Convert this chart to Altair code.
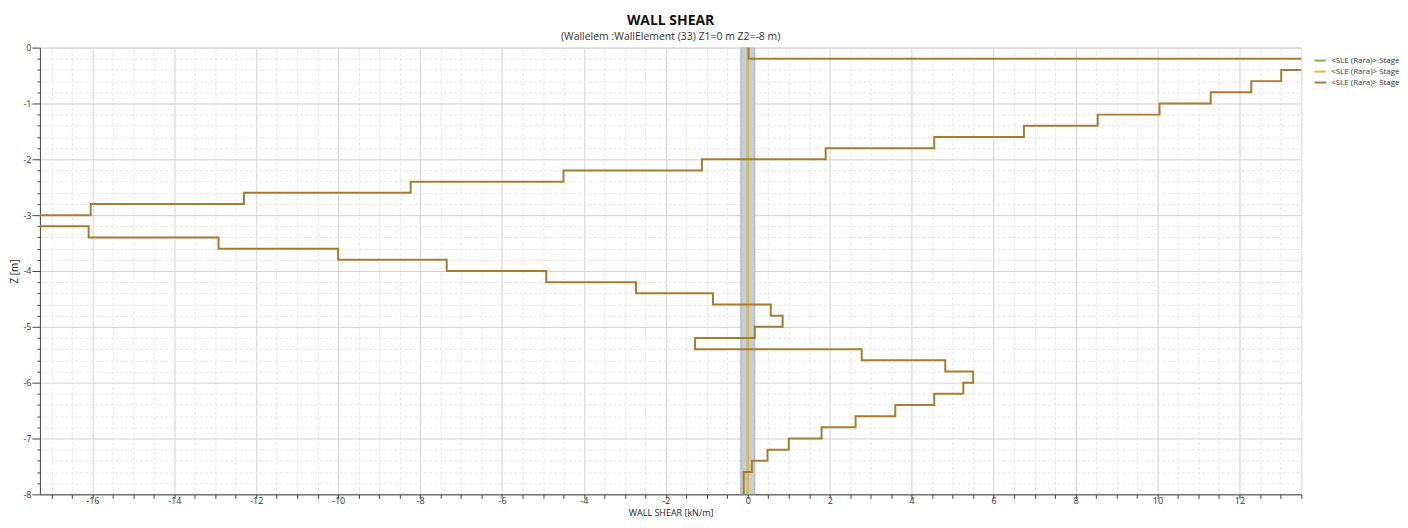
import altair as alt
import pandas as pd

# ---- data ----
z_edges = [0.0, -0.2, -0.4, -0.6, -0.8, -1.0, -1.2, -1.4, -1.6, -1.8,
           -2.0, -2.2, -2.4, -2.6, -2.8, -3.0, -3.2, -3.4, -3.6, -3.8,
           -4.0, -4.2, -4.4, -4.6, -4.8, -5.0, -5.2, -5.4, -5.6, -5.8,
           -6.0, -6.2, -6.4, -6.6, -6.8, -7.0, -7.2, -7.4, -7.6, -7.8, -8.0]

# wall shear per 0.2 m slice (stage 3, brown)
shear_stage3 = [0.02, 14.5, 13.02, 12.29, 11.3, 10.05, 8.54, 6.74, 4.55, 1.9,
                -1.12, -4.5, -8.23, -12.3, -16.04, -18.0, -16.09, -12.92, -10.0, -7.35,
                -4.92, -2.73, -0.85, 0.56, 0.85, 0.17, -1.29, 2.78, 4.82, 5.5,
                5.26, 4.55, 3.6, 2.63, 1.8, 1.0, 0.48, 0.1, -0.1, -0.1]

# stages 1 and 2: zero shear along the whole wall
stage12_z = [0.0, -8.0]
shear_stage1 = [0.0, 0.0]
shear_stage2 = [0.0, 0.0]

# grey envelope band around zero
band_low = [-0.17]
band_high = [0.17]

series_names = ["<SLE (Rara)> Stage 1", "<SLE (Rara)> Stage 2", "<SLE (Rara)> Stage 3"]
series_colors = ["#7DB84A", "#E9B935", "#A57D2F"]

x_ticks = [v / 2 for v in range(-34, 28)]          # every 0.5 kN/m
y_ticks = [round(-0.2 * i, 1) for i in range(41)]   # every 0.2 m

# ---- build tables ----
rows = []
k = 0
for zz, xx in zip(stage12_z, shear_stage1):
    rows.append({"x": xx, "z": zz, "series": series_names[0], "ord": k}); k += 1
for zz, xx in zip(stage12_z, shear_stage2):
    rows.append({"x": xx, "z": zz, "series": series_names[1], "ord": k}); k += 1
for i, v in enumerate(shear_stage3):
    rows.append({"x": v, "z": z_edges[i], "series": series_names[2], "ord": k}); k += 1
    rows.append({"x": v, "z": z_edges[i + 1], "series": series_names[2], "ord": k}); k += 1
lines = pd.DataFrame(rows)

band = pd.DataFrame({"x": band_low, "x2": band_high, "z": [z_edges[0]], "z2": [z_edges[-1]]})

FONT = "Open Sans"
x_major = "abs(datum.value % 2) < 0.001"
y_major = "abs(datum.value - round(datum.value)) < 0.001"

x_scale = alt.Scale(domain=[-17.28, 13.51], nice=False, zero=False)
y_scale = alt.Scale(domain=[-8, 0], nice=False, zero=False)

x_axis = alt.Axis(
    values=x_ticks,
    labelExpr=f"{x_major} ? '' + datum.value : ''",
    title="WALL SHEAR [kN/m]",
    grid=True,
    gridColor={"condition": {"test": x_major, "value": "#D2D2D2"}, "value": "#E9E9E9"},
    gridDash={"condition": {"test": x_major, "value": []}, "value": [3, 2]},
    gridWidth=1,
    tickSize=4, tickColor="#444", domainColor="#444",
    labelFontSize=9, labelColor="#333", labelFont=FONT, labelPadding=-2,
    titleFont=FONT, titleFontSize=9, titleFontWeight="normal", titleColor="#222",
    titlePadding=3, labelFlush=False,
)
y_axis = alt.Axis(
    values=y_ticks,
    labelExpr=f"{y_major} ? '' + round(datum.value) : ''",
    title="Z [m]",
    grid=True,
    gridColor={"condition": {"test": y_major, "value": "#D2D2D2"}, "value": "#E9E9E9"},
    gridDash={"condition": {"test": y_major, "value": []}, "value": [3, 2]},
    gridWidth=1,
    tickSize={"condition": {"test": y_major, "value": 8}, "value": 3},
    tickColor="#444", domainColor="#444",
    labelFontSize=9, labelColor="#333", labelFont=FONT, labelPadding=1,
    titleFont=FONT, titleFontSize=10, titleFontWeight="normal", titleColor="#222",
    titlePadding=3, labelFlush=False,
)

band_layer = alt.Chart(band).mark_rect(
    fill="#C9CDD5", stroke="#A9AEB9", strokeWidth=1, clip=True
).encode(
    x=alt.X("x:Q", scale=x_scale, axis=x_axis),
    x2="x2:Q",
    y=alt.Y("z:Q", scale=y_scale, axis=y_axis),
    y2="z2:Q",
)

line_layer = alt.Chart(lines).mark_line(strokeWidth=2, clip=True).encode(
    x=alt.X("x:Q", scale=x_scale, axis=x_axis),
    y=alt.Y("z:Q", scale=y_scale, axis=y_axis),
    order="ord:Q",
    color=alt.Color(
        "series:N",
        scale=alt.Scale(domain=series_names, range=series_colors),
        legend=alt.Legend(
            title=None, orient="none", legendX=1277, legendY=6, padding=0,
            symbolType="stroke", symbolSize=130, symbolStrokeWidth=2,
            labelFont=FONT, labelFontSize=8, labelColor="#333", labelOffset=4,
            labelExpr="'<SLE (Rara)> Stage'", rowPadding=0, labelLimit=80,
        ),
    ),
)

chart = alt.layer(band_layer, line_layer).properties(
    width=1265,
    height=448,
    padding={"left": 1, "top": 5, "right": 0, "bottom": 0},
    title=alt.TitleParams(
        "WALL SHEAR",
        subtitle="(Wallelem :WallElement (33) Z1=0 m Z2=-8 m)",
        font=FONT, fontSize=14, fontWeight="bold", color="#111",
        subtitleFont=FONT, subtitleFontSize=10.5, subtitleColor="#333",
        subtitlePadding=4, anchor="middle", frame="group", offset=1,
    ),
).configure_view(stroke="#555", strokeWidth=1).configure(background="white")

chart.save("out.html", embed_options={"renderer": "svg", "actions": False})
